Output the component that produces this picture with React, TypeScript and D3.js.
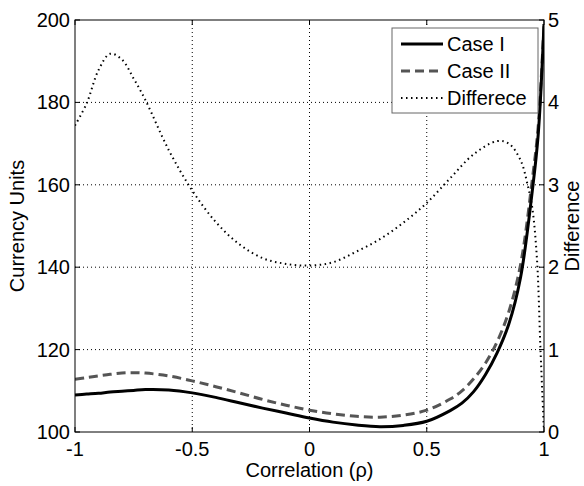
import React from 'react';
import { scaleLinear, line, curveCatmullRom } from 'd3';

// correlation values (x) and the three series
const rho = [-1, -0.95, -0.9, -0.85, -0.8, -0.75, -0.7, -0.6, -0.5, -0.4, -0.3, -0.2, -0.1, 0,
  0.1, 0.2, 0.3, 0.4, 0.5, 0.6, 0.65, 0.7, 0.75, 0.8, 0.85, 0.9, 0.95, 0.975, 1];
const caseI = [109.0, 109.2, 109.4, 109.7, 109.9, 110.1, 110.3, 110.2, 109.5, 108.4, 107.1, 105.8,
  104.6, 103.4, 102.4, 101.7, 101.3, 101.6, 102.6, 105.2, 107.0, 109.8, 113.9, 119.2, 126.2,
  137.5, 158.5, 172, 199];
const caseII = [112.8, 113.2, 113.6, 114.0, 114.3, 114.4, 114.3, 113.6, 112.4, 111.0, 109.5, 107.9,
  106.5, 105.3, 104.4, 103.8, 103.6, 104.1, 105.3, 108.0, 110.0, 112.9, 116.7, 121.9, 129.2,
  140.6, 161.2, 174, 199];

const diffRho = [-1, -0.95, -0.9, -0.85, -0.8, -0.75, -0.7, -0.6, -0.5, -0.4, -0.3, -0.2, -0.1, 0,
  0.1, 0.2, 0.3, 0.4, 0.5, 0.6, 0.7, 0.8, 0.85, 0.9, 0.93, 0.95, 0.97, 0.985, 1];
const difference = [3.72, 3.99, 4.39, 4.59, 4.52, 4.29, 4.03, 3.42, 2.93, 2.55, 2.28, 2.11, 2.04, 2.02,
  2.06, 2.19, 2.34, 2.54, 2.78, 3.08, 3.37, 3.53, 3.5, 3.3, 3.0, 2.72, 2.1, 1.0, 0.0];

const xTicks = [-1, -0.5, 0, 0.5, 1];
const xTickLabels = ['-1', '-0.5', '0', '0.5', '1'];
const yTicks = [100, 120, 140, 160, 180, 200];
const y2Ticks = [0, 1, 2, 3, 4, 5];

const W = 584;
const H = 486;
const L = 75, R = 544, T = 20, B = 432;
const font = '"Liberation Sans", Arial, sans-serif';
const fs = 20;

const App = () => {
  const x = scaleLinear().domain([-1, 1]).range([L, R]);
  const y = scaleLinear().domain([100, 200]).range([B, T]);
  const y2 = scaleLinear().domain([0, 5]).range([B, T]);

  const curve = curveCatmullRom.alpha(0.5);
  const lineI = line<number>().x((d, i) => x(rho[i])).y(d => y(d)).curve(curve);
  const lineD = line<number>().x((d, i) => x(diffRho[i])).y(d => y2(d)).curve(curve);

  const legend = [
    { label: 'Case I', color: '#000', dash: 'none', width: 3 },
    { label: 'Case II', color: '#555', dash: '9 5', width: 3 },
    { label: 'Differece', color: '#000', dash: '1.5 3.5', width: 2 },
  ];

  return (
    <svg width={W} height={H} style={{ position: 'absolute', left: 0, top: 0, background: '#fff' }}
      fontFamily={font} fontSize={fs}>
      <defs>
        <clipPath id="plot">
          <rect x={L} y={T} width={R - L} height={B - T} />
        </clipPath>
      </defs>
      <rect x={0} y={0} width={W} height={H} fill="#fff" />

      {/* grid */}
      {xTicks.slice(1, -1).map(t => (
        <line key={'gx' + t} x1={x(t)} x2={x(t)} y1={T} y2={B} stroke="#000" strokeWidth={1} strokeDasharray="1 3" />
      ))}
      {yTicks.slice(1, -1).map(t => (
        <line key={'gy' + t} x1={L} x2={R} y1={y(t)} y2={y(t)} stroke="#000" strokeWidth={1} strokeDasharray="1 3" />
      ))}

      {/* curves */}
      <g clipPath="url(#plot)" fill="none">
        <path d={lineD(difference) || ''} stroke="#000" strokeWidth={2} strokeDasharray="1.5 3.5" />
        <path d={lineI(caseII) || ''} stroke="#555" strokeWidth={3} strokeDasharray="9 5" />
        <path d={lineI(caseI) || ''} stroke="#000" strokeWidth={3} />
      </g>

      {/* box */}
      <rect x={L} y={T} width={R - L} height={B - T} fill="none" stroke="#000" strokeWidth={1} />

      {/* ticks */}
      {xTicks.map((t, i) => (
        <g key={'xt' + t}>
          <line x1={x(t)} x2={x(t)} y1={B} y2={B - 5} stroke="#000" />
          <line x1={x(t)} x2={x(t)} y1={T} y2={T + 5} stroke="#000" />
          <text x={x(t)} y={456} textAnchor="middle">{xTickLabels[i]}</text>
        </g>
      ))}
      {yTicks.map(t => (
        <g key={'yt' + t}>
          <line x1={L} x2={L + 5} y1={y(t)} y2={y(t)} stroke="#000" />
          <text x={70} y={y(t) + 7} textAnchor="end">{t}</text>
        </g>
      ))}
      {y2Ticks.map(t => (
        <g key={'y2t' + t}>
          <line x1={R} x2={R - 5} y1={y2(t)} y2={y2(t)} stroke="#000" />
          <text x={548} y={y2(t) + 7} textAnchor="start">{t}</text>
        </g>
      ))}

      {/* axis titles */}
      <text x={(L + R) / 2} y={477} textAnchor="middle">Correlation (ρ)</text>
      <text transform={`translate(24,${(T + B) / 2}) rotate(-90)`} textAnchor="middle">Currency Units</text>
      <text transform={`translate(579,${(T + B) / 2}) rotate(-90)`} textAnchor="middle">Difference</text>

      {/* legend */}
      <rect x={392} y={28} width={146} height={85} fill="#fff" stroke="#666" strokeWidth={1} />
      {legend.map((d, i) => (
        <g key={d.label} transform={`translate(0,${44 + i * 27})`}>
          <line x1={401} x2={443} y1={0} y2={0} stroke={d.color} strokeWidth={d.width} strokeDasharray={d.dash} />
          <text x={447} y={7}>{d.label}</text>
        </g>
      ))}
    </svg>
  );
};

export default App;
